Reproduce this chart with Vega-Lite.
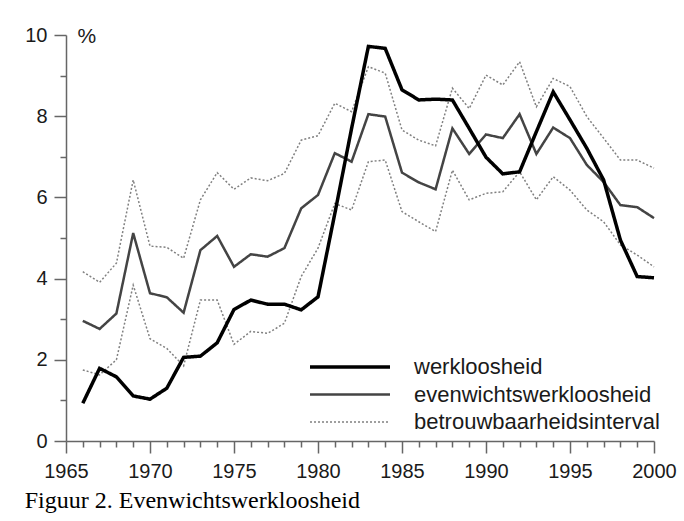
{
  "$schema": "https://vega.github.io/schema/vega-lite/v6.json",
  "autosize": {"type": "none"},
  "width": 588,
  "height": 406,
  "padding": {"left": 66, "top": 35, "right": 30, "bottom": 80},
  "background": "white",
  "title": {
    "text": "Figuur 2. Evenwichtswerkloosheid",
    "orient": "bottom",
    "anchor": "start",
    "font": "Liberation Serif",
    "fontSize": 24,
    "fontWeight": "normal",
    "color": "#000000",
    "baseline": "top",
    "offset": 8
  },
  "config": {
    "view": {"stroke": null},
    "axis": {
      "grid": false,
      "labelFont": "Liberation Sans",
      "labelFontSize": 20,
      "labelColor": "#1a1a1a",
      "domainColor": "#666666",
      "tickColor": "#666666",
      "domainWidth": 1.5,
      "tickWidth": 1.5,
      "labelOverlap": false,
      "labelBound": false,
      "labelFlush": false
    }
  },
  "data": {
    "values": [
      {"jaar": 1966, "waarde": 4.17, "reeks": "betrouwbaarheidsinterval", "grens": "boven"},
      {"jaar": 1967, "waarde": 3.91, "reeks": "betrouwbaarheidsinterval", "grens": "boven"},
      {"jaar": 1968, "waarde": 4.38, "reeks": "betrouwbaarheidsinterval", "grens": "boven"},
      {"jaar": 1969, "waarde": 6.43, "reeks": "betrouwbaarheidsinterval", "grens": "boven"},
      {"jaar": 1970, "waarde": 4.80, "reeks": "betrouwbaarheidsinterval", "grens": "boven"},
      {"jaar": 1971, "waarde": 4.77, "reeks": "betrouwbaarheidsinterval", "grens": "boven"},
      {"jaar": 1972, "waarde": 4.50, "reeks": "betrouwbaarheidsinterval", "grens": "boven"},
      {"jaar": 1973, "waarde": 5.94, "reeks": "betrouwbaarheidsinterval", "grens": "boven"},
      {"jaar": 1974, "waarde": 6.61, "reeks": "betrouwbaarheidsinterval", "grens": "boven"},
      {"jaar": 1975, "waarde": 6.20, "reeks": "betrouwbaarheidsinterval", "grens": "boven"},
      {"jaar": 1976, "waarde": 6.48, "reeks": "betrouwbaarheidsinterval", "grens": "boven"},
      {"jaar": 1977, "waarde": 6.41, "reeks": "betrouwbaarheidsinterval", "grens": "boven"},
      {"jaar": 1978, "waarde": 6.59, "reeks": "betrouwbaarheidsinterval", "grens": "boven"},
      {"jaar": 1979, "waarde": 7.41, "reeks": "betrouwbaarheidsinterval", "grens": "boven"},
      {"jaar": 1980, "waarde": 7.52, "reeks": "betrouwbaarheidsinterval", "grens": "boven"},
      {"jaar": 1981, "waarde": 8.32, "reeks": "betrouwbaarheidsinterval", "grens": "boven"},
      {"jaar": 1982, "waarde": 8.11, "reeks": "betrouwbaarheidsinterval", "grens": "boven"},
      {"jaar": 1983, "waarde": 9.22, "reeks": "betrouwbaarheidsinterval", "grens": "boven"},
      {"jaar": 1984, "waarde": 9.06, "reeks": "betrouwbaarheidsinterval", "grens": "boven"},
      {"jaar": 1985, "waarde": 7.66, "reeks": "betrouwbaarheidsinterval", "grens": "boven"},
      {"jaar": 1986, "waarde": 7.41, "reeks": "betrouwbaarheidsinterval", "grens": "boven"},
      {"jaar": 1987, "waarde": 7.27, "reeks": "betrouwbaarheidsinterval", "grens": "boven"},
      {"jaar": 1988, "waarde": 8.69, "reeks": "betrouwbaarheidsinterval", "grens": "boven"},
      {"jaar": 1989, "waarde": 8.19, "reeks": "betrouwbaarheidsinterval", "grens": "boven"},
      {"jaar": 1990, "waarde": 9.01, "reeks": "betrouwbaarheidsinterval", "grens": "boven"},
      {"jaar": 1991, "waarde": 8.77, "reeks": "betrouwbaarheidsinterval", "grens": "boven"},
      {"jaar": 1992, "waarde": 9.34, "reeks": "betrouwbaarheidsinterval", "grens": "boven"},
      {"jaar": 1993, "waarde": 8.23, "reeks": "betrouwbaarheidsinterval", "grens": "boven"},
      {"jaar": 1994, "waarde": 8.93, "reeks": "betrouwbaarheidsinterval", "grens": "boven"},
      {"jaar": 1995, "waarde": 8.73, "reeks": "betrouwbaarheidsinterval", "grens": "boven"},
      {"jaar": 1996, "waarde": 7.99, "reeks": "betrouwbaarheidsinterval", "grens": "boven"},
      {"jaar": 1997, "waarde": 7.46, "reeks": "betrouwbaarheidsinterval", "grens": "boven"},
      {"jaar": 1998, "waarde": 6.92, "reeks": "betrouwbaarheidsinterval", "grens": "boven"},
      {"jaar": 1999, "waarde": 6.92, "reeks": "betrouwbaarheidsinterval", "grens": "boven"},
      {"jaar": 2000, "waarde": 6.72, "reeks": "betrouwbaarheidsinterval", "grens": "boven"},
      {"jaar": 1966, "waarde": 1.75, "reeks": "betrouwbaarheidsinterval", "grens": "onder"},
      {"jaar": 1967, "waarde": 1.63, "reeks": "betrouwbaarheidsinterval", "grens": "onder"},
      {"jaar": 1968, "waarde": 2.00, "reeks": "betrouwbaarheidsinterval", "grens": "onder"},
      {"jaar": 1969, "waarde": 3.84, "reeks": "betrouwbaarheidsinterval", "grens": "onder"},
      {"jaar": 1970, "waarde": 2.52, "reeks": "betrouwbaarheidsinterval", "grens": "onder"},
      {"jaar": 1971, "waarde": 2.28, "reeks": "betrouwbaarheidsinterval", "grens": "onder"},
      {"jaar": 1972, "waarde": 1.85, "reeks": "betrouwbaarheidsinterval", "grens": "onder"},
      {"jaar": 1973, "waarde": 3.47, "reeks": "betrouwbaarheidsinterval", "grens": "onder"},
      {"jaar": 1974, "waarde": 3.47, "reeks": "betrouwbaarheidsinterval", "grens": "onder"},
      {"jaar": 1975, "waarde": 2.38, "reeks": "betrouwbaarheidsinterval", "grens": "onder"},
      {"jaar": 1976, "waarde": 2.70, "reeks": "betrouwbaarheidsinterval", "grens": "onder"},
      {"jaar": 1977, "waarde": 2.65, "reeks": "betrouwbaarheidsinterval", "grens": "onder"},
      {"jaar": 1978, "waarde": 2.90, "reeks": "betrouwbaarheidsinterval", "grens": "onder"},
      {"jaar": 1979, "waarde": 4.05, "reeks": "betrouwbaarheidsinterval", "grens": "onder"},
      {"jaar": 1980, "waarde": 4.75, "reeks": "betrouwbaarheidsinterval", "grens": "onder"},
      {"jaar": 1981, "waarde": 5.85, "reeks": "betrouwbaarheidsinterval", "grens": "onder"},
      {"jaar": 1982, "waarde": 5.69, "reeks": "betrouwbaarheidsinterval", "grens": "onder"},
      {"jaar": 1983, "waarde": 6.88, "reeks": "betrouwbaarheidsinterval", "grens": "onder"},
      {"jaar": 1984, "waarde": 6.92, "reeks": "betrouwbaarheidsinterval", "grens": "onder"},
      {"jaar": 1985, "waarde": 5.65, "reeks": "betrouwbaarheidsinterval", "grens": "onder"},
      {"jaar": 1986, "waarde": 5.40, "reeks": "betrouwbaarheidsinterval", "grens": "onder"},
      {"jaar": 1987, "waarde": 5.16, "reeks": "betrouwbaarheidsinterval", "grens": "onder"},
      {"jaar": 1988, "waarde": 6.67, "reeks": "betrouwbaarheidsinterval", "grens": "onder"},
      {"jaar": 1989, "waarde": 5.94, "reeks": "betrouwbaarheidsinterval", "grens": "onder"},
      {"jaar": 1990, "waarde": 6.10, "reeks": "betrouwbaarheidsinterval", "grens": "onder"},
      {"jaar": 1991, "waarde": 6.14, "reeks": "betrouwbaarheidsinterval", "grens": "onder"},
      {"jaar": 1992, "waarde": 6.63, "reeks": "betrouwbaarheidsinterval", "grens": "onder"},
      {"jaar": 1993, "waarde": 5.94, "reeks": "betrouwbaarheidsinterval", "grens": "onder"},
      {"jaar": 1994, "waarde": 6.51, "reeks": "betrouwbaarheidsinterval", "grens": "onder"},
      {"jaar": 1995, "waarde": 6.18, "reeks": "betrouwbaarheidsinterval", "grens": "onder"},
      {"jaar": 1996, "waarde": 5.69, "reeks": "betrouwbaarheidsinterval", "grens": "onder"},
      {"jaar": 1997, "waarde": 5.40, "reeks": "betrouwbaarheidsinterval", "grens": "onder"},
      {"jaar": 1998, "waarde": 4.83, "reeks": "betrouwbaarheidsinterval", "grens": "onder"},
      {"jaar": 1999, "waarde": 4.58, "reeks": "betrouwbaarheidsinterval", "grens": "onder"},
      {"jaar": 2000, "waarde": 4.29, "reeks": "betrouwbaarheidsinterval", "grens": "onder"},
      {"jaar": 1966, "waarde": 2.96, "reeks": "evenwichtswerkloosheid", "grens": "-"},
      {"jaar": 1967, "waarde": 2.76, "reeks": "evenwichtswerkloosheid", "grens": "-"},
      {"jaar": 1968, "waarde": 3.14, "reeks": "evenwichtswerkloosheid", "grens": "-"},
      {"jaar": 1969, "waarde": 5.12, "reeks": "evenwichtswerkloosheid", "grens": "-"},
      {"jaar": 1970, "waarde": 3.64, "reeks": "evenwichtswerkloosheid", "grens": "-"},
      {"jaar": 1971, "waarde": 3.54, "reeks": "evenwichtswerkloosheid", "grens": "-"},
      {"jaar": 1972, "waarde": 3.16, "reeks": "evenwichtswerkloosheid", "grens": "-"},
      {"jaar": 1973, "waarde": 4.70, "reeks": "evenwichtswerkloosheid", "grens": "-"},
      {"jaar": 1974, "waarde": 5.05, "reeks": "evenwichtswerkloosheid", "grens": "-"},
      {"jaar": 1975, "waarde": 4.29, "reeks": "evenwichtswerkloosheid", "grens": "-"},
      {"jaar": 1976, "waarde": 4.60, "reeks": "evenwichtswerkloosheid", "grens": "-"},
      {"jaar": 1977, "waarde": 4.54, "reeks": "evenwichtswerkloosheid", "grens": "-"},
      {"jaar": 1978, "waarde": 4.75, "reeks": "evenwichtswerkloosheid", "grens": "-"},
      {"jaar": 1979, "waarde": 5.73, "reeks": "evenwichtswerkloosheid", "grens": "-"},
      {"jaar": 1980, "waarde": 6.06, "reeks": "evenwichtswerkloosheid", "grens": "-"},
      {"jaar": 1981, "waarde": 7.09, "reeks": "evenwichtswerkloosheid", "grens": "-"},
      {"jaar": 1982, "waarde": 6.88, "reeks": "evenwichtswerkloosheid", "grens": "-"},
      {"jaar": 1983, "waarde": 8.05, "reeks": "evenwichtswerkloosheid", "grens": "-"},
      {"jaar": 1984, "waarde": 7.99, "reeks": "evenwichtswerkloosheid", "grens": "-"},
      {"jaar": 1985, "waarde": 6.61, "reeks": "evenwichtswerkloosheid", "grens": "-"},
      {"jaar": 1986, "waarde": 6.37, "reeks": "evenwichtswerkloosheid", "grens": "-"},
      {"jaar": 1987, "waarde": 6.20, "reeks": "evenwichtswerkloosheid", "grens": "-"},
      {"jaar": 1988, "waarde": 7.70, "reeks": "evenwichtswerkloosheid", "grens": "-"},
      {"jaar": 1989, "waarde": 7.07, "reeks": "evenwichtswerkloosheid", "grens": "-"},
      {"jaar": 1990, "waarde": 7.55, "reeks": "evenwichtswerkloosheid", "grens": "-"},
      {"jaar": 1991, "waarde": 7.46, "reeks": "evenwichtswerkloosheid", "grens": "-"},
      {"jaar": 1992, "waarde": 8.05, "reeks": "evenwichtswerkloosheid", "grens": "-"},
      {"jaar": 1993, "waarde": 7.07, "reeks": "evenwichtswerkloosheid", "grens": "-"},
      {"jaar": 1994, "waarde": 7.72, "reeks": "evenwichtswerkloosheid", "grens": "-"},
      {"jaar": 1995, "waarde": 7.46, "reeks": "evenwichtswerkloosheid", "grens": "-"},
      {"jaar": 1996, "waarde": 6.80, "reeks": "evenwichtswerkloosheid", "grens": "-"},
      {"jaar": 1997, "waarde": 6.38, "reeks": "evenwichtswerkloosheid", "grens": "-"},
      {"jaar": 1998, "waarde": 5.81, "reeks": "evenwichtswerkloosheid", "grens": "-"},
      {"jaar": 1999, "waarde": 5.76, "reeks": "evenwichtswerkloosheid", "grens": "-"},
      {"jaar": 2000, "waarde": 5.49, "reeks": "evenwichtswerkloosheid", "grens": "-"},
      {"jaar": 1966, "waarde": 0.93, "reeks": "werkloosheid", "grens": "-"},
      {"jaar": 1967, "waarde": 1.79, "reeks": "werkloosheid", "grens": "-"},
      {"jaar": 1968, "waarde": 1.58, "reeks": "werkloosheid", "grens": "-"},
      {"jaar": 1969, "waarde": 1.11, "reeks": "werkloosheid", "grens": "-"},
      {"jaar": 1970, "waarde": 1.03, "reeks": "werkloosheid", "grens": "-"},
      {"jaar": 1971, "waarde": 1.30, "reeks": "werkloosheid", "grens": "-"},
      {"jaar": 1972, "waarde": 2.06, "reeks": "werkloosheid", "grens": "-"},
      {"jaar": 1973, "waarde": 2.09, "reeks": "werkloosheid", "grens": "-"},
      {"jaar": 1974, "waarde": 2.42, "reeks": "werkloosheid", "grens": "-"},
      {"jaar": 1975, "waarde": 3.24, "reeks": "werkloosheid", "grens": "-"},
      {"jaar": 1976, "waarde": 3.47, "reeks": "werkloosheid", "grens": "-"},
      {"jaar": 1977, "waarde": 3.37, "reeks": "werkloosheid", "grens": "-"},
      {"jaar": 1978, "waarde": 3.37, "reeks": "werkloosheid", "grens": "-"},
      {"jaar": 1979, "waarde": 3.23, "reeks": "werkloosheid", "grens": "-"},
      {"jaar": 1980, "waarde": 3.55, "reeks": "werkloosheid", "grens": "-"},
      {"jaar": 1981, "waarde": 5.60, "reeks": "werkloosheid", "grens": "-"},
      {"jaar": 1982, "waarde": 7.70, "reeks": "werkloosheid", "grens": "-"},
      {"jaar": 1983, "waarde": 9.72, "reeks": "werkloosheid", "grens": "-"},
      {"jaar": 1984, "waarde": 9.67, "reeks": "werkloosheid", "grens": "-"},
      {"jaar": 1985, "waarde": 8.65, "reeks": "werkloosheid", "grens": "-"},
      {"jaar": 1986, "waarde": 8.40, "reeks": "werkloosheid", "grens": "-"},
      {"jaar": 1987, "waarde": 8.42, "reeks": "werkloosheid", "grens": "-"},
      {"jaar": 1988, "waarde": 8.40, "reeks": "werkloosheid", "grens": "-"},
      {"jaar": 1989, "waarde": 7.70, "reeks": "werkloosheid", "grens": "-"},
      {"jaar": 1990, "waarde": 6.99, "reeks": "werkloosheid", "grens": "-"},
      {"jaar": 1991, "waarde": 6.58, "reeks": "werkloosheid", "grens": "-"},
      {"jaar": 1992, "waarde": 6.63, "reeks": "werkloosheid", "grens": "-"},
      {"jaar": 1993, "waarde": 7.62, "reeks": "werkloosheid", "grens": "-"},
      {"jaar": 1994, "waarde": 8.60, "reeks": "werkloosheid", "grens": "-"},
      {"jaar": 1995, "waarde": 7.91, "reeks": "werkloosheid", "grens": "-"},
      {"jaar": 1996, "waarde": 7.21, "reeks": "werkloosheid", "grens": "-"},
      {"jaar": 1997, "waarde": 6.43, "reeks": "werkloosheid", "grens": "-"},
      {"jaar": 1998, "waarde": 4.95, "reeks": "werkloosheid", "grens": "-"},
      {"jaar": 1999, "waarde": 4.05, "reeks": "werkloosheid", "grens": "-"},
      {"jaar": 2000, "waarde": 4.02, "reeks": "werkloosheid", "grens": "-"}
    ]
  },
  "mark": {"type": "line", "clip": false},
  "encoding": {
    "x": {
      "field": "jaar",
      "type": "quantitative",
      "scale": {"domain": [1965, 2000], "nice": false, "zero": false},
      "axis": {
        "title": null,
        "values": [1965, 1966, 1967, 1968, 1969, 1970, 1971, 1972, 1973, 1974, 1975, 1976, 1977, 1978, 1979, 1980, 1981, 1982, 1983, 1984, 1985, 1986, 1987, 1988, 1989, 1990, 1991, 1992, 1993, 1994, 1995, 1996, 1997, 1998, 1999, 2000],
        "format": "d",
        "labelExpr": "datum.value % 5 === 0 ? datum.label : ''",
        "tickSize": {"expr": "datum.value % 5 === 0 ? 12 : 6"},
        "labelPadding": 8
      }
    },
    "y": {
      "field": "waarde",
      "type": "quantitative",
      "scale": {"domain": [0, 10], "nice": false},
      "axis": {
        "title": "%",
        "titleAngle": 0,
        "titleX": 11,
        "titleY": 1,
        "titleAlign": "left",
        "titleBaseline": "middle",
        "titleFont": "Liberation Sans",
        "titleFontSize": 21,
        "titleFontWeight": "normal",
        "titleColor": "#1a1a1a",
        "values": [0, 1, 2, 3, 4, 5, 6, 7, 8, 9, 10],
        "labelExpr": "datum.value % 2 === 0 ? datum.label : ''",
        "tickSize": {"expr": "datum.value % 2 === 0 ? 12 : 6"},
        "labelPadding": 7
      }
    },
    "detail": {"field": "grens", "type": "nominal"},
    "color": {
      "field": "reeks",
      "type": "nominal",
      "scale": {
        "domain": ["werkloosheid", "evenwichtswerkloosheid", "betrouwbaarheidsinterval"],
        "range": ["#000000", "#444444", "#808080"]
      },
      "legend": {
        "title": null,
        "orient": "none",
        "legendX": 242,
        "legendY": 321,
        "symbolType": "stroke",
        "symbolSize": 6400,
        "clipHeight": 22,
        "rowPadding": 5.5,
        "padding": 0,
        "labelOffset": 22,
        "labelFont": "Liberation Sans",
        "labelFontSize": 22,
        "labelColor": "#1a1a1a",
        "labelLimit": 400
      }
    },
    "strokeDash": {
      "field": "reeks",
      "type": "nominal",
      "scale": {
        "domain": ["werkloosheid", "evenwichtswerkloosheid", "betrouwbaarheidsinterval"],
        "range": [[1, 0], [1, 0], [2, 2]]
      }
    },
    "strokeWidth": {
      "field": "reeks",
      "type": "nominal",
      "scale": {
        "domain": ["werkloosheid", "evenwichtswerkloosheid", "betrouwbaarheidsinterval"],
        "range": [3.5, 1.5, 1.5]
      }
    }
  }
}
